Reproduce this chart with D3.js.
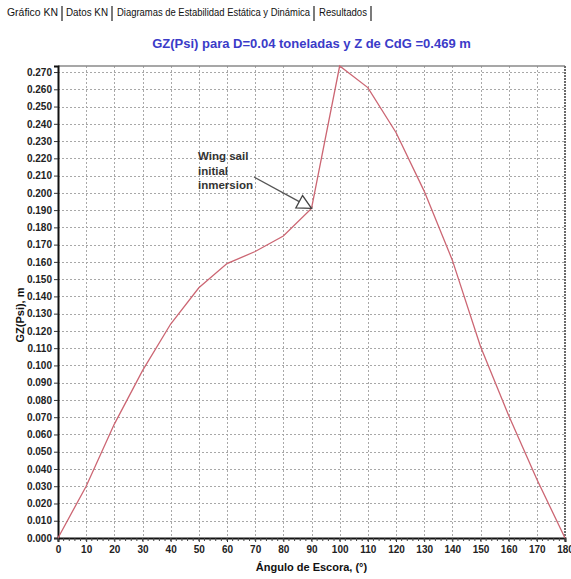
<!DOCTYPE html>
<html>
<head>
<meta charset="utf-8">
<script src="https://cdn.jsdelivr.net/npm/d3@7"></script>
<style>
  html, body { margin: 0; padding: 0; background: #fff; }
  svg { display: block; font-family: "Liberation Sans", Arial, sans-serif; }
</style>
</head>
<body>
<svg id="chart" width="571" height="579"></svg>
<script>
// Heel angle (degrees) and righting arm GZ (m)
const angles = [0, 10, 20, 30, 40, 50, 60, 70, 80, 90, 100, 110, 120, 130, 140, 150, 160, 170, 180];
const gzValues = [0.000, 0.030, 0.066, 0.097, 0.124, 0.145, 0.159, 0.166, 0.175, 0.191, 0.2735, 0.261, 0.235, 0.201, 0.161, 0.111, 0.071, 0.034, 0.000];

// Axis ticks
const xTicks = d3.range(0, 181, 10);
const yTicks = d3.range(0, 28).map(i => i / 100);

// Tabs above the chart
const tabLabels = ["Gráfico KN", "Datos KN", "Diagramas de Estabilidad Estática y Dinámica", "Resultados"];

// Annotation
const noteAngle = 90;
const noteGZ = 0.191;
const noteLines = ["Wing sail", "initial", "inmersion"];

const titleText = "GZ(Psi) para D=0.04 toneladas y Z de CdG =0.469 m";
const xTitle = "Ángulo de Escora, (°)";
const yTitle = "GZ(Psi), m";

const svg = d3.select("#chart");
const plotLeft = 58, plotRight = 565, plotTop = 66, plotBottom = 538;

const x = d3.scaleLinear().domain([0, 180]).range([plotLeft, plotRight]);
const y = d3.scaleLinear().domain([0, 0.2735]).range([plotBottom, plotTop]);

// Tabs: each label is fitted into its slot, followed by a separator bar
const tabStarts = [7, 66, 117, 319];
const tabWidths = [51, 42, 193, 48];
const tabs = svg.append("g").attr("font-size", 10).attr("fill", "#111");
tabLabels.forEach((t, i) => {
  tabs.append("text").attr("x", tabStarts[i]).attr("y", 16)
    .attr("textLength", tabWidths[i]).attr("lengthAdjust", "spacingAndGlyphs")
    .text(t);
  const sep = tabStarts[i] + tabWidths[i] + 4;
  tabs.append("line").attr("x1", sep).attr("x2", sep).attr("y1", 6).attr("y2", 21)
    .attr("stroke", "#222").attr("stroke-width", 1.2);
});

// Title
svg.append("text")
  .attr("x", (plotLeft + plotRight) / 2).attr("y", 48)
  .attr("text-anchor", "middle")
  .attr("font-size", 13).attr("font-weight", "bold").attr("fill", "#3b3bc8")
  .text(titleText);

// Grid
const grid = svg.append("g").attr("stroke", "#a8a8a8").attr("stroke-width", 1)
  .attr("stroke-dasharray", "2,2");
grid.selectAll(".h").data(yTicks.slice(1)).join("line")
  .attr("x1", plotLeft).attr("x2", plotRight)
  .attr("y1", d => Math.round(y(d)) + 0.5).attr("y2", d => Math.round(y(d)) + 0.5);
grid.selectAll(".v").data(xTicks.slice(1, -1)).join("line")
  .attr("y1", plotTop).attr("y2", plotBottom)
  .attr("x1", d => Math.round(x(d)) + 0.5).attr("x2", d => Math.round(x(d)) + 0.5);

// Frame: top and right
svg.append("line").attr("x1", plotLeft).attr("x2", plotRight).attr("y1", plotTop).attr("y2", plotTop)
  .attr("stroke", "#8a8a8a").attr("stroke-width", 1.5);
svg.append("line").attr("x1", plotRight).attr("x2", plotRight).attr("y1", plotTop).attr("y2", plotBottom)
  .attr("stroke", "#6a6a6a").attr("stroke-width", 2).attr("stroke-dasharray", "2,1");

// Y axis
const yAxis = svg.append("g").attr("transform", `translate(${plotLeft},0)`)
  .call(d3.axisLeft(y).tickValues(yTicks).tickFormat(d3.format(".3f")).tickSize(4).tickPadding(2));
yAxis.select(".domain").attr("stroke", "#111").attr("stroke-width", 2);
yAxis.selectAll(".tick line").attr("stroke", "#333");
yAxis.selectAll(".tick text").attr("font-size", 10).attr("font-weight", "bold")
  .attr("fill", "#222").attr("font-family", "'Liberation Sans', Arial, sans-serif");

// X axis with minor ticks
const xAxis = svg.append("g").attr("transform", `translate(0,${plotBottom})`)
  .call(d3.axisBottom(x).tickValues(xTicks).tickSize(4).tickPadding(4));
xAxis.select(".domain").attr("stroke", "#111").attr("stroke-width", 2);
xAxis.selectAll(".tick line").attr("stroke", "#333");
xAxis.selectAll(".tick text").attr("font-size", 10).attr("font-weight", "bold")
  .attr("fill", "#222").attr("font-family", "'Liberation Sans', Arial, sans-serif");
svg.append("g").selectAll("line").data(d3.range(0, 181, 2)).join("line")
  .attr("x1", d => x(d)).attr("x2", d => x(d))
  .attr("y1", plotBottom).attr("y2", plotBottom + 3)
  .attr("stroke", "#444").attr("stroke-width", 1);

// Axis titles
svg.append("text")
  .attr("x", (plotLeft + plotRight) / 2).attr("y", 571)
  .attr("text-anchor", "middle").attr("font-size", 11).attr("font-weight", "bold").attr("fill", "#111")
  .text(xTitle);
svg.append("text")
  .attr("transform", "translate(24,315) rotate(-90)")
  .attr("text-anchor", "middle").attr("font-size", 11).attr("font-weight", "bold").attr("fill", "#111")
  .text(yTitle);

// GZ curve
const line = d3.line().x((d, i) => x(angles[i])).y(d => y(d));
svg.append("path").datum(gzValues)
  .attr("d", line)
  .attr("fill", "none").attr("stroke", "#cc6673").attr("stroke-width", 1.3);

// Annotation with open arrowhead
const px = x(noteAngle), py = y(noteGZ);
const sx = 254, sy = 177;
const dx = px - sx, dy = py - sy, len = Math.hypot(dx, dy);
const ux = dx / len, uy = dy / len;
const headL = 14, headW = 7;
const bx = px - ux * headL, by = py - uy * headL;
svg.append("line").attr("x1", sx).attr("y1", sy).attr("x2", bx).attr("y2", by)
  .attr("stroke", "#555").attr("stroke-width", 1.3);
svg.append("path")
  .attr("d", `M${px},${py} L${bx - uy * headW},${by + ux * headW} L${bx + uy * headW},${by - ux * headW} Z`)
  .attr("fill", "#fff").attr("stroke", "#444").attr("stroke-width", 1.3);
const note = svg.append("g").attr("font-size", 11.5).attr("font-weight", "bold").attr("fill", "#333");
noteLines.forEach((t, i) => {
  note.append("text").attr("x", 198).attr("y", 160 + i * 14.5).text(t);
});
</script>
</body>
</html>
